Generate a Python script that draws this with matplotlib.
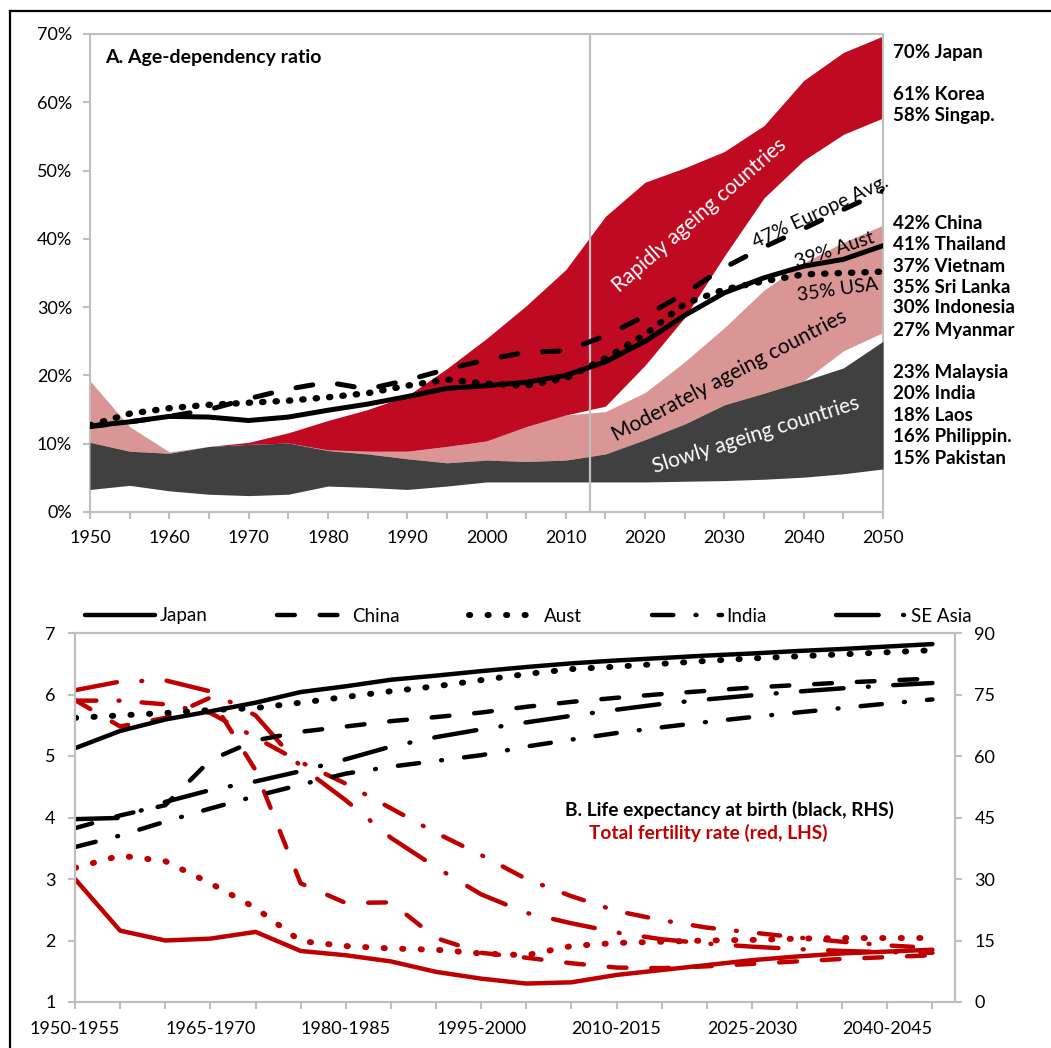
import numpy as np
import matplotlib
matplotlib.use("Agg")
import matplotlib.pyplot as plt
from matplotlib.lines import Line2D
from matplotlib.ticker import FuncFormatter, MultipleLocator

plt.rcParams['font.family'] = ['Lato', 'DejaVu Sans']

# ---------------- Panel A data (age-dependency ratio, %) ----------------
years = [1950, 1955, 1960, 1965, 1970, 1975, 1980, 1985, 1990, 1995, 2000,
         2005, 2010, 2015, 2020, 2025, 2030, 2035, 2040, 2045, 2050]
slow_lo = [3.3, 3.9, 3.1, 2.6, 2.4, 2.6, 3.8, 3.6, 3.3, 3.8, 4.4,
           4.4, 4.4, 4.4, 4.4, 4.5, 4.6, 4.8, 5.1, 5.6, 6.3]
slow_hi = [10.2, 8.9, 8.6, 9.6, 9.9, 10.1, 9.0, 8.5, 7.8, 7.2, 7.6,
           7.4, 7.6, 8.5, 10.6, 12.9, 15.7, 17.4, 19.2, 21.1, 25.0]
mod_lo = [10.2, 8.9, 8.6, 9.6, 9.9, 10.1, 9.0, 8.5, 7.8, 7.2, 7.6,
          7.4, 7.6, 8.5, 10.6, 12.9, 15.7, 17.4, 19.2, 23.6, 26.3]
mod_hi = [19.2, 12.5, 8.8, 9.6, 9.9, 10.1, 9.1, 8.9, 8.9, 9.6, 10.4,
          12.5, 14.2, 14.7, 17.5, 22.0, 27.0, 32.5, 36.5, 39.5, 42.0]
rapid_lo = [np.nan, np.nan, 8.8, 9.6, 9.9, 10.1, 9.1, 8.9, 8.9, 9.6, 10.4,
            12.5, 14.2, 15.5, 21.5, 28.5, 37.5, 46.0, 51.5, 55.3, 57.7]
rapid_hi = [np.nan, np.nan, 8.8, 9.6, 10.2, 11.6, 13.4, 15.0, 17.0, 21.0, 25.4,
            30.2, 35.5, 43.3, 48.3, 50.4, 52.8, 56.6, 63.2, 67.3, 69.7]
europe = [12.5, 13.2, 14.0, 15.0, 16.6, 18.0, 19.0, 18.0, 19.3, 20.9, 22.3,
          23.4, 23.6, 25.8, 28.7, 32.0, 35.8, 38.8, 41.5, 44.3, 47.0]
aust_dep = [12.6, 13.2, 14.0, 13.9, 13.4, 13.9, 14.9, 15.8, 16.9, 18.1, 18.5,
            19.0, 20.0, 22.0, 25.0, 28.8, 32.1, 34.3, 36.0, 37.0, 39.0]
usa_dep = [12.7, 14.4, 15.2, 15.7, 16.0, 16.3, 16.8, 17.4, 18.5, 19.4, 18.8,
           18.5, 19.6, 22.5, 26.0, 30.5, 32.6, 33.8, 34.8, 35.0, 35.2]

right_labels = ["70% Japan", "61% Korea", "58% Singap.", "42% China", "41% Thailand",
                "37% Vietnam", "35% Sri Lanka", "30% Indonesia", "27% Myanmar",
                "23% Malaysia", "20% India", "18% Laos", "16% Philippin.", "15% Pakistan"]
right_label_y = [67.3, 61.1, 58.0, 42.3, 39.2, 36.0, 32.9, 29.9, 26.6,
                 20.5, 17.4, 14.2, 11.1, 7.9]

# ---------------- Panel B data ----------------
periods = ["1950-1955", "1955-1960", "1960-1965", "1965-1970", "1970-1975",
           "1975-1980", "1980-1985", "1985-1990", "1990-1995", "1995-2000",
           "2000-2005", "2005-2010", "2010-2015", "2015-2020", "2020-2025",
           "2025-2030", "2030-2035", "2035-2040", "2040-2045", "2045-2050"]
le_japan = [61.9, 66.1, 68.9, 70.9, 73.0, 75.6, 77.0, 78.6, 79.6, 80.7,
            81.7, 82.6, 83.3, 83.9, 84.5, 85.0, 85.6, 86.1, 86.7, 87.3]
le_china = [42.4, 45.5, 48.0, 59.0, 63.8, 65.9, 67.2, 68.5, 69.5, 70.6,
            72.0, 73.2, 74.2, 75.1, 75.9, 76.7, 77.3, 77.9, 78.4, 78.9]
le_aust = [69.3, 69.9, 70.5, 71.2, 71.7, 73.0, 74.4, 75.8, 77.0, 78.5,
           80.0, 81.2, 81.8, 82.5, 83.2, 83.8, 84.3, 84.8, 85.3, 85.8]
le_india = [37.8, 40.6, 44.0, 47.2, 50.2, 53.0, 55.7, 57.4, 58.8, 60.2,
            62.3, 64.0, 65.6, 67.0, 68.3, 69.5, 70.6, 71.7, 72.8, 73.8]
le_seasia = [44.6, 44.9, 48.8, 51.7, 53.8, 56.3, 59.2, 62.3, 64.6, 66.5,
             68.2, 69.8, 71.3, 72.7, 73.8, 74.8, 75.7, 76.5, 77.2, 77.8]
tfr_japan = [3.0, 2.16, 2.0, 2.03, 2.14, 1.83, 1.76, 1.66, 1.49, 1.38,
             1.30, 1.32, 1.44, 1.52, 1.60, 1.68, 1.74, 1.79, 1.82, 1.85]
tfr_china = [5.91, 5.48, 5.62, 5.95, 4.77, 2.93, 2.61, 2.62, 2.04, 1.80,
             1.72, 1.63, 1.56, 1.55, 1.58, 1.62, 1.66, 1.70, 1.73, 1.76]
tfr_aust = [3.18, 3.38, 3.29, 2.93, 2.53, 1.99, 1.91, 1.87, 1.85, 1.79,
            1.76, 1.91, 1.96, 1.98, 2.00, 2.01, 2.03, 2.04, 2.04, 2.04]
tfr_india = [5.90, 5.90, 5.84, 5.70, 5.30, 4.90, 4.55, 4.15, 3.75, 3.39,
             3.00, 2.72, 2.48, 2.33, 2.21, 2.13, 2.05, 1.98, 1.92, 1.88]
tfr_seasia = [6.07, 6.21, 6.23, 6.05, 5.66, 4.83, 4.28, 3.67, 3.19, 2.75,
              2.45, 2.28, 2.13, 2.02, 1.95, 1.90, 1.86, 1.83, 1.81, 1.80]
legend_names = ["Japan", "China", "Aust", "India", "SE Asia"]

# ---------------- colours ----------------
RED_BAND = "#C00A22"
PINK = "#D99694"
DARK = "#404040"
RED_LINE = "#C00000"
GRID = "#BFBFBF"

W, H = 1051, 1048
fig = plt.figure(figsize=(W / 100, H / 100), dpi=100)


def rect(l, t, r, b):
    return [l / W, 1 - b / H, (r - l) / W, (b - t) / H]


# figure frame (top and left edges)
fig.add_artist(Line2D([10 / W, 1], [1 - 11 / H, 1 - 11 / H], color="k", lw=1.6,
                      transform=fig.transFigure))
fig.add_artist(Line2D([10 / W, 10 / W], [0, 1 - 11 / H], color="k", lw=1.6,
                      transform=fig.transFigure))

# ======================= Panel A =======================
axA = fig.add_axes(rect(90, 34, 883, 512))
axA.fill_between(years, mod_lo, mod_hi, color=PINK, lw=0, zorder=1)
axA.fill_between(years, rapid_lo, rapid_hi, color=RED_BAND, lw=0, zorder=2)
axA.fill_between(years, slow_lo, slow_hi, color=DARK, lw=0, zorder=3)
axA.axvline(2013, color=GRID, lw=1.6, zorder=4)
axA.plot(years, europe, color="k", lw=3.6, dashes=(3.4, 5.0), dash_capstyle="round", zorder=5)
axA.plot(years, usa_dep, color="k", lw=4.6, dashes=(0.2, 1.9), dash_capstyle="round", zorder=5)
axA.plot(years, aust_dep, color="k", lw=3.6, solid_capstyle="round", zorder=6)

axA.set_xlim(1950, 2050)
axA.set_ylim(0, 70)
axA.xaxis.set_major_locator(MultipleLocator(10))
axA.xaxis.set_minor_locator(MultipleLocator(5))
axA.yaxis.set_major_locator(MultipleLocator(10))
axA.yaxis.set_major_formatter(FuncFormatter(lambda v, p: f"{int(round(v))}%"))
for s in axA.spines.values():
    s.set_color(GRID)
    s.set_linewidth(1.5)
axA.tick_params(axis="both", which="both", direction="out", color=GRID, width=1.5,
                length=5, labelsize=13, pad=8)
axA.tick_params(axis="y", right=False)

axA.text(1951.9, 66.6, "A. Age-dependency ratio", fontsize=14, fontweight="bold",
         ha="left", va="center", zorder=10)
for lab, yv in zip(right_labels, right_label_y):
    axA.text(2051.3, yv, lab, fontsize=13.5, fontweight="bold", ha="left", va="center",
             clip_on=False)

axA.text(2026.9, 43.5, "Rapidly ageing countries", color="white", fontsize=15,
         rotation=41, ha="center", va="center", rotation_mode="anchor", zorder=7)
axA.text(2030.6, 19.9, "Moderately ageing countries", color="black", fontsize=15,
         rotation=27.5, ha="center", va="center", rotation_mode="anchor", zorder=7)
axA.text(2034.0, 11.3, "Slowly ageing countries", color="white", fontsize=15,
         rotation=17.5, ha="center", va="center", rotation_mode="anchor", zorder=7)
axA.text(2042.1, 43.9, "47% Europe Avg.", color="black", fontsize=14,
         rotation=25, ha="center", va="center", rotation_mode="anchor", zorder=7)
axA.text(2043.9, 38.4, "39% Aust", color="black", fontsize=14,
         rotation=18, ha="center", va="center", rotation_mode="anchor", zorder=7)
axA.text(2044.3, 32.5, "35% USA", color="black", fontsize=14,
         rotation=8, ha="center", va="center", rotation_mode="anchor", zorder=7)

# ======================= Panel B =======================
axB = fig.add_axes(rect(75, 633, 955, 1002))
axBr = axB.twinx()
x = np.arange(len(periods))

LW = 3.2
styles = [
    dict(lw=LW, linestyle="-", solid_capstyle="round", solid_joinstyle="round"),
    dict(lw=LW, dashes=(4.0, 5.6), dash_capstyle="round"),
    dict(lw=4.3, dashes=(0.2, 2.9), dash_capstyle="round"),
    dict(lw=LW, dashes=(4.8, 5.0, 0.2, 5.0), dash_capstyle="round"),
    dict(lw=LW, dashes=(9.6, 5.5, 0.2, 5.5), dash_capstyle="round"),
]
tfr_series = [tfr_japan, tfr_china, tfr_aust, tfr_india, tfr_seasia]
le_series = [le_japan, le_china, le_aust, le_india, le_seasia]
for ser, st in zip(tfr_series, styles):
    axB.plot(x, ser, color=RED_LINE, **st)
for ser, st in zip(le_series, styles):
    axBr.plot(x, ser, color="k", **st)

axB.set_xlim(0, 19.5)
axB.set_ylim(1, 7)
axBr.set_ylim(0, 90)
axB.set_xticks(x)
axB.set_xticklabels([p if i % 3 == 0 else "" for i, p in enumerate(periods)])
axB.yaxis.set_major_locator(MultipleLocator(1))
axBr.yaxis.set_major_locator(MultipleLocator(15))
for a in (axB, axBr):
    for s in a.spines.values():
        s.set_color(GRID)
        s.set_linewidth(1.5)
    a.tick_params(axis="both", which="both", direction="out", color=GRID, width=1.5,
                  length=5, labelsize=13, pad=9)

handles = [Line2D([0], [0], color="k", **st) for st in styles]
axBr.legend(handles, legend_names, ncol=5, loc="center left",
            bbox_to_anchor=(85 / W, 1 - 616 / H), bbox_transform=fig.transFigure,
            frameon=False, borderpad=0, borderaxespad=0, handlelength=3.75,
            handletextpad=0.25, columnspacing=3.7, fontsize=13.5)

axB.text(14.5, 4.12, "B. Life expectancy at birth (black, RHS)", fontsize=13.8,
         fontweight="bold", ha="center", va="center", color="black")
axB.text(14.03, 3.75, "Total fertility rate (red, LHS)", fontsize=13.8,
         fontweight="bold", ha="center", va="center", color=RED_LINE)

fig.savefig("out.png", dpi=100)
